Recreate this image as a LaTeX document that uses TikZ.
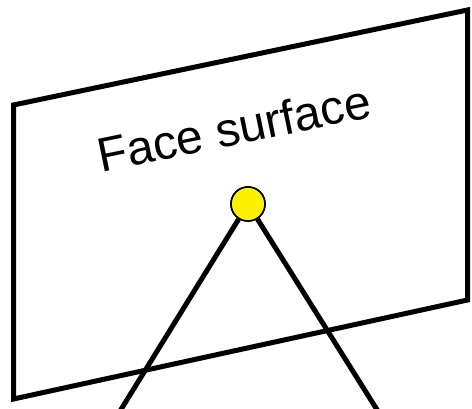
\documentclass[tikz,border=0pt]{standalone}
\usepackage{fontspec}
\setmainfont{Liberation Sans}
\usetikzlibrary{positioning}

\begin{document}
\begin{tikzpicture}[
    x=1pt, y=-1pt,
    surface/.style={
        draw=black, line width=5pt, line join=miter
    },
    eyedot/.style={
        circle, draw=black, line width=1.6pt, fill=yellow,
        minimum size=34pt, inner sep=0pt
    },
    ray/.style={
        draw=black, line width=5pt
    },
    surflabel/.style={
        font=\fontsize{48}{52}\selectfont, rotate=11.7, inner sep=0pt
    }
]

% — Frame of the picture —
\clip (0,0) rectangle (472,409);

% — Face surface (parallelogram) —
\coordinate (tl) at (13.5,105);
\coordinate (tr) at (467.5,10);
\coordinate (br) at (467.5,300);
\coordinate (bl) at (13.5,399);
\draw[surface] (tl) -- (tr) -- (br) -- (bl) -- cycle;

\node[surflabel] (label) at (234,128) {Face surface};

% — Viewing rays —
\coordinate (footL) at (114.5,420);
\coordinate (footR) at (383.5,420);
\node[eyedot] (eye) at (248,204) {};
\draw[ray] (eye) -- (footL);
\draw[ray] (eye) -- (footR);
\node[eyedot] at (eye) {};

\end{tikzpicture}
\end{document}
